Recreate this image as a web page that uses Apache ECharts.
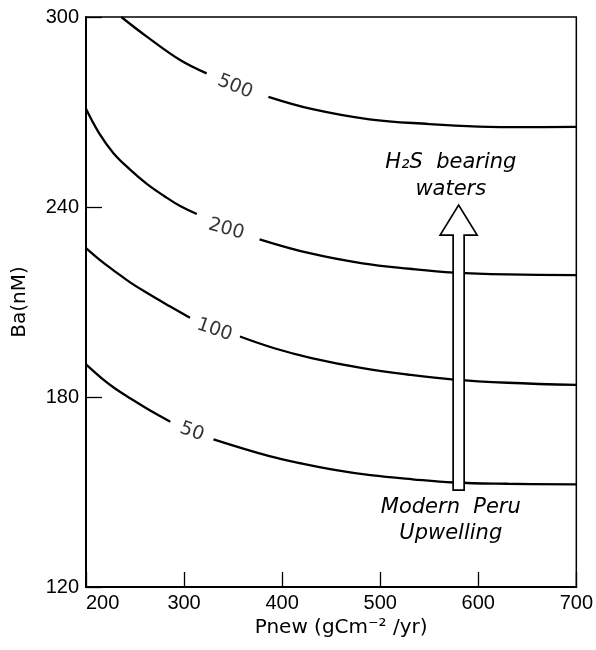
<!DOCTYPE html>
<html>
<head>
<meta charset="utf-8">
<script src="https://cdn.jsdelivr.net/npm/echarts@6/dist/echarts.min.js"></script>
<style>html,body{margin:0;padding:0;background:#fff;}#c{width:596px;height:650px;}</style>
</head>
<body>
<div id="c"></div>
<script>
// ---- data ----
const xTicks = [200, 300, 400, 500, 600, 700];
const yTicks = [120, 180, 240, 300];
const curve500 = [[236,300],[262,293.8],[296,286.4],[323,282.2],[null,null],[386,274.8],[431,270.9],[489,267.7],[550,266.2],[600,265.4],[650,265.2],[700,265.3]];
const curve200 = [[200,271],[213,263.5],[228,257],[245,251.8],[262,247.3],[280,243.4],[296,240.3],[313,237.8],[null,null],[377,229.8],[428,225.4],[482,222.2],[530,220.5],[575,219.3],[630,218.7],[700,218.5]];
const curve100 = [[200,227],[214,223.3],[228,220],[245,216.2],[262,212.9],[285,208.7],[306,205],[null,null],[357,199.1],[392,195.4],[430,192.3],[482,189.1],[530,187],[575,185.5],[630,184.5],[700,183.8]];
const curve50  = [[200,190.3],[218,185.4],[230,182.6],[245,179.6],[265,175.8],[286,172.2],[null,null],[330,166.6],[387,161.3],[420,159],[455,156.9],[490,155.3],[533,154],[575,153],[630,152.6],[700,152.4]];
const curveNames = ['500', '200', '100', '50'];
const curveLabelPos = [[352,278],[343,233],[331,201.2],[308,169]];
const arrowData = [[580, 150.6, 240.6]];
const annoPos = [[572,254],[572,245.5],[572,145],[572,136.8]];
const annoText = ['H\u2082S  bearing', 'waters', 'Modern  Peru', 'Upwelling'];

const chart = echarts.init(document.getElementById('c'));
const ink = '#000';
const tickFont = 'Liberation Sans Narrow, Liberation Sans, sans-serif';
const curves = [curve500, curve200, curve100, curve50];
const rotations = [-22, -16, -19, -20];

const lineSeries = curves.map((d, i) => ({
  type: 'line', name: curveNames[i], data: d, smooth: 0.4, connectNulls: false,
  showSymbol: false, symbol: 'none', clip: true,
  lineStyle: { color: ink, width: 2.3 }, z: 2, silent: true
}));

const labelSeries = curveLabelPos.map((p, i) => ({
  type: 'scatter', data: [{ value: p, name: curveNames[i] }], symbolSize: 0, silent: true, z: 4,
  label: {
    show: true, position: 'inside', formatter: curveNames[i], rotate: rotations[i],
    fontFamily: 'DejaVu Sans, sans-serif', fontSize: 19, color: ink
  }
}));

chart.setOption({
  animation: false,
  backgroundColor: '#fff',
  grid: { left: 86, right: 19, top: 17, bottom: 63, show: true, borderColor: ink, borderWidth: 1.5, containLabel: false },
  xAxis: {
    type: 'value', min: xTicks[0], max: xTicks[xTicks.length - 1], interval: 100,
    name: 'Pnew (gCm\u207B\u00B2 /yr)', nameLocation: 'middle', nameGap: 21,
    nameTextStyle: { fontFamily: 'DejaVu Sans, sans-serif', fontSize: 20, color: ink, padding: [0,0,0,20] },
    axisLine: { show: true, lineStyle: { color: ink, width: 2 } },
    axisTick: { show: true, inside: true, length: 15, lineStyle: { color: ink, width: 1.3 } },
    axisLabel: { fontFamily: tickFont, fontSize: 20, color: ink, margin: 6, alignMinLabel: 'left', alignMaxLabel: 'center' },
    splitLine: { show: false }
  },
  yAxis: {
    type: 'value', min: yTicks[0], max: yTicks[yTicks.length - 1], interval: 60,
    name: 'Ba(nM)', nameLocation: 'middle', nameGap: 56, nameRotate: 90,
    nameTextStyle: { fontFamily: 'DejaVu Sans, sans-serif', fontSize: 20, color: ink },
    axisLine: { show: true, lineStyle: { color: ink, width: 2 } },
    axisTick: { show: true, inside: true, length: 16, lineStyle: { color: ink, width: 1.3 } },
    axisLabel: { fontFamily: tickFont, fontSize: 20, color: ink, margin: 7 },
    splitLine: { show: false }
  },
  series: [
    ...lineSeries,
    ...labelSeries,
    {
      type: 'custom', data: arrowData, z: 5, silent: true,
      renderItem: (params, api) => {
        const b = api.coord([api.value(0), api.value(1)]);
        const t = api.coord([api.value(0), api.value(2)]);
        const sw = 5.5, hw = 18.5, hl = 30;
        return {
          type: 'polygon',
          shape: { points: [[b[0]-sw, b[1]], [b[0]-sw, t[1]+hl], [b[0]-hw, t[1]+hl], [t[0], t[1]], [b[0]+hw, t[1]+hl], [b[0]+sw, t[1]+hl], [b[0]+sw, b[1]]] },
          style: { fill: '#fff', stroke: ink, lineWidth: 1.7 }
        };
      }
    },
    {
      type: 'custom', data: annoPos.map((p, i) => [p[0], p[1], i]), z: 6, silent: true,
      renderItem: (params, api) => {
        const p = api.coord([api.value(0), api.value(1)]);
        const idx = api.value(2);
        return {
          type: 'text', x: p[0], y: p[1],
          style: {
            text: annoText[idx], align: 'center', verticalAlign: 'middle',
            fontFamily: 'DejaVu Sans, sans-serif', fontStyle: 'italic', fontSize: 21, fill: ink
          }
        };
      }
    }
  ]
});
</script>
</body>
</html>
